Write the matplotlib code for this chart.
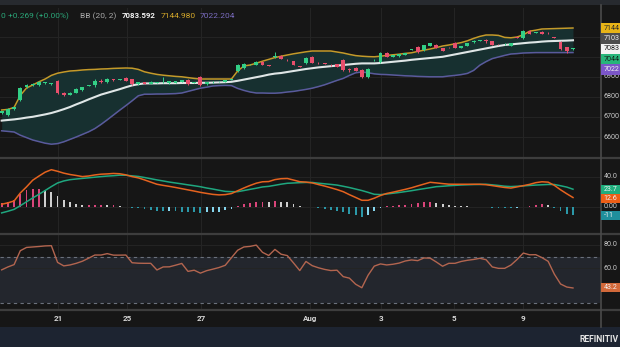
import numpy as np
import matplotlib
matplotlib.use("Agg")
import matplotlib.pyplot as plt
from matplotlib.patches import Rectangle

plt.rcParams['font.family'] = ['Roboto', 'DejaVu Sans']

# ---- data (one value per 4h candle) ----
open_ = [6720, 6712, 6740, 6785, 6848, 6860, 6862, 6870, 6866, 6880,
         6820, 6812, 6820, 6835, 6857, 6858, 6880, 6875, 6888, 6885,
         6895, 6890, 6865, 6875, 6867, 6870, 6873, 6868, 6872, 6877,
         6885, 6870, 6900, 6863, 6873, 6878, 6875, 6886, 6928, 6945,
         6963, 6960, 6975, 6956, 7000, 7005, 6987, 6980, 6952, 6970,
         7000, 6972, 6966, 6962, 6965, 6985, 6938, 6945, 6935, 6900,
         6984, 6975, 7020, 7000, 7003, 7010, 7035, 7050, 7035, 7055,
         7060, 7045, 7050, 7070, 7045, 7055, 7073, 7082, 7085, 7080,
         7061, 7063, 7055, 7096, 7095, 7130, 7120, 7125, 7122, 7097,
         7075, 7050, 7040]
high = [6732, 6745, 6752, 6850, 6866, 6870, 6880, 6874, 6869, 6886,
        6823, 6824, 6843, 6852, 6862, 6892, 6888, 6893, 6892, 6888,
        6898, 6892, 6877, 6877, 6880, 6873, 6898, 6880, 6882, 6887,
        6888, 6873, 6905, 6877, 6879, 6881, 6887, 6889, 6965, 6968,
        6966, 6978, 6978, 6958, 7025, 7008, 6989, 6982, 6954, 6998,
        7003, 6974, 6968, 6964, 6967, 6990, 6947, 6948, 6938, 6943,
        6988, 7025, 7023, 7012, 7015, 7022, 7038, 7053, 7062, 7072,
        7063, 7047, 7052, 7073, 7057, 7072, 7085, 7085, 7088, 7082,
        7063, 7070, 7072, 7098, 7135, 7133, 7127, 7128, 7124, 7099,
        7078, 7052, 7046]
low = [6716, 6706, 6735, 6780, 6845, 6855, 6856, 6867, 6862, 6815,
       6807, 6810, 6818, 6832, 6855, 6852, 6870, 6872, 6882, 6883,
       6878, 6862, 6862, 6864, 6865, 6868, 6868, 6866, 6870, 6875,
       6862, 6868, 6855, 6860, 6868, 6876, 6873, 6884, 6925, 6942,
       6961, 6958, 6958, 6953, 6995, 6988, 6982, 6958, 6949, 6967,
       6968, 6966, 6963, 6956, 6948, 6930, 6925, 6928, 6897, 6897,
       6982, 6970, 6998, 6998, 7000, 7008, 7033, 7022, 7032, 7053,
       7043, 7028, 7047, 7043, 7043, 7053, 7068, 7080, 7070, 7058,
       7058, 7058, 7053, 7094, 7090, 7113, 7118, 7113, 7116, 7095,
       7035, 7020, 7037]
close = [6728, 6740, 6748, 6845, 6860, 6866, 6876, 6871, 6867, 6820,
         6810, 6822, 6840, 6848, 6859, 6880, 6875, 6890, 6884, 6886,
         6880, 6865, 6875, 6866, 6877, 6871, 6874, 6878, 6880, 6885,
         6865, 6871, 6860, 6875, 6874, 6879, 6885, 6887, 6960, 6965,
         6964, 6975, 6960, 6955, 7003, 6990, 6984, 6960, 6951, 6995,
         6970, 6968, 6965, 6958, 6950, 6935, 6937, 6930, 6900, 6940,
         6986, 7020, 7000, 7010, 7013, 7020, 7036, 7025, 7060, 7070,
         7045, 7030, 7049, 7045, 7055, 7070, 7078, 7083, 7082, 7060,
         7059, 7065, 7070, 7095, 7130, 7115, 7125, 7115, 7118, 7096,
         7040, 7028, 7044]

bb_upper = [6735, 6738, 6748, 6808, 6845, 6860, 6876, 6890, 6908, 6919,
            6925, 6930, 6932, 6935, 6937, 6938, 6940, 6941, 6943, 6944,
            6945, 6944, 6938, 6926, 6919, 6913, 6909, 6906, 6903, 6901,
            6897, 6893, 6890, 6890, 6890, 6890, 6890, 6890, 6930, 6955,
            6960, 6969, 6979, 6988, 6997, 7004, 7010, 7016, 7021, 7026,
            7030, 7030, 7030, 7030, 7025, 7020, 7013, 7007, 7004, 7002,
            7001, 7004, 7008, 7011, 7014, 7018, 7021, 7028, 7034, 7040,
            7047, 7055, 7060, 7066, 7072, 7081, 7093, 7103, 7110, 7110,
            7108, 7098, 7096, 7100, 7111, 7129, 7134, 7140, 7141, 7142,
            7143, 7144, 7144.980]
bb_mid = [6682, 6685, 6688, 6692, 6697, 6701, 6707, 6713, 6720, 6729,
          6739, 6750, 6763, 6775, 6788, 6800, 6812, 6821, 6830, 6839,
          6849, 6858, 6864, 6868, 6868, 6868, 6869, 6869, 6869, 6870,
          6870, 6870, 6871, 6871, 6872, 6873, 6874, 6876, 6881, 6887,
          6893, 6899, 6905, 6912, 6917, 6920, 6925, 6930, 6935, 6940,
          6944, 6948, 6951, 6954, 6957, 6960, 6963, 6966, 6968, 6968,
          6968, 6970, 6973, 6976, 6979, 6982, 6986, 6989, 6992, 6995,
          6998, 7001, 7007, 7013, 7019, 7025, 7031, 7037, 7043, 7049,
          7055, 7060, 7063, 7066, 7069, 7072, 7074, 7077, 7079, 7080,
          7081, 7082, 7083.592]
bb_lower = [6631, 6628, 6625, 6609, 6597, 6585, 6577, 6569, 6564, 6567,
            6576, 6588, 6600, 6613, 6626, 6642, 6663, 6686, 6710, 6734,
            6757, 6781, 6806, 6814, 6814, 6815, 6815, 6816, 6817, 6820,
            6828, 6836, 6844, 6849, 6855, 6857, 6858, 6857, 6843, 6833,
            6825, 6820, 6820, 6819, 6819, 6821, 6825, 6828, 6833, 6838,
            6844, 6852, 6861, 6872, 6883, 6893, 6908, 6921, 6925, 6921,
            6916, 6913, 6912, 6910, 6908, 6906, 6905, 6903, 6902, 6901,
            6901, 6901, 6905, 6908, 6912, 6918, 6933, 6959, 6977, 6992,
            7000, 7008, 7015, 7017, 7020, 7021, 7022, 7022, 7022, 7022,
            7022, 7022, 7022.204]

macd = [3.6, 5.5, 8.0, 18.7, 26.8, 35.7, 41.2, 46.4, 49.7, 47.6,
        45.1, 43.3, 42.0, 40.5, 41.3, 42.7, 43.7, 44.1, 44.7, 44.3,
        42.8, 40.5, 38.8, 36.1, 33.2, 30.3, 28.8, 27.5, 26.0, 24.4,
        22.8, 21.2, 19.5, 18.1, 16.8, 16.1, 16.5, 17.9, 21.6, 25.3,
        28.7, 31.7, 33.6, 33.9, 36.5, 37.7, 38.0, 35.9, 33.7, 33.2,
        32.1, 29.9, 27.9, 25.6, 23.2, 20.4, 16.4, 12.7, 8.9, 8.9,
        11.7, 15.3, 18.0, 19.7, 21.6, 23.5, 25.6, 28.1, 30.5, 32.9,
        32.1, 31.2, 30.4, 30.3, 30.3, 30.3, 30.3, 30.3, 29.7, 28.5,
        27.2, 26.0, 25.2, 26.8, 28.4, 30.1, 32.4, 33.6, 33.1, 28.8,
        22.9, 17.6, 12.6]
signal = [-7.9, -5.7, -3.2, 1.7, 6.9, 12.0, 16.9, 22.0, 27.2, 32.0,
          34.7, 36.4, 37.3, 38.1, 38.9, 39.7, 40.5, 41.2, 41.7, 42.4,
          42.3, 41.5, 40.7, 39.3, 37.7, 36.1, 34.7, 33.2, 32.0, 30.8,
          29.5, 28.3, 27.0, 25.3, 23.9, 22.3, 20.8, 20.4, 20.4, 21.9,
          23.5, 25.0, 26.7, 27.5, 28.9, 30.4, 31.6, 32.0, 32.4, 32.7,
          32.7, 31.7, 30.9, 30.1, 29.2, 27.6, 25.9, 23.9, 21.9, 19.5,
          16.9, 16.5, 17.3, 18.3, 19.3, 20.5, 21.7, 23.1, 24.4, 25.7,
          27.1, 27.6, 28.3, 28.8, 29.3, 29.6, 29.9, 30.0, 30.3, 29.5,
          28.7, 27.7, 27.2, 27.6, 28.1, 28.7, 29.2, 29.6, 30.0, 30.0,
          28.3, 26.5, 23.7]
hist = [5.0, 6.7, 8.9, 17.8, 22.5, 24.0, 24.2, 22.0, 20.5, 15.0,
        9.5, 6.0, 3.5, 2.4, 2.4, 3.0, 3.2, 2.9, 3.0, 1.9,
        0.5, -1.0, -1.9, -3.2, -4.5, -5.8, -5.9, -5.7, -6.0, -6.4,
        -6.7, -7.1, -7.5, -7.2, -7.1, -6.2, -4.3, -2.5, 1.2, 3.4,
        5.2, 6.7, 6.9, 6.4, 7.6, 7.3, 6.4, 3.9, 1.3, 0.5,
        -0.6, -1.8, -3.0, -4.5, -6.0, -7.2, -9.5, -11.2, -13.0, -10.6,
        -5.2, -1.2, 0.7, 1.4, 2.3, 3.0, 3.9, 5.0, 6.1, 7.2,
        5.0, 3.6, 2.1, 1.5, 1.0, 0.7, 0.4, 0.3, -0.6, -1.0,
        -1.5, -1.7, -2.0, -0.8, 0.3, 1.4, 3.2, 4.0, 3.1, -1.2,
        -5.4, -8.9, -11.1]

rsi = [58.7, 61.2, 63.2, 75.1, 77.9, 78.3, 78.7, 79.2, 79.4, 65.1,
       62.1, 62.9, 64.3, 66.1, 68.7, 71.4, 71.4, 72.6, 71.3, 71.3,
       71.4, 64.8, 64.4, 64.3, 64.3, 58.6, 61.2, 61.3, 62.7, 64.2,
       57.4, 58.4, 55.9, 58.0, 59.3, 60.7, 62.6, 69.1, 75.5, 78.3,
       78.8, 79.9, 73.7, 71.0, 76.2, 72.1, 70.9, 64.6, 58.1, 65.9,
       62.3, 60.5, 59.1, 58.1, 58.4, 52.9, 51.6, 46.4, 43.4, 54.1,
       61.9, 63.8, 62.9, 63.5, 64.5, 66.3, 67.2, 66.6, 68.9, 68.7,
       65.4, 61.8, 64.3, 64.3, 65.9, 66.9, 67.6, 68.6, 67.4, 61.2,
       60.0, 60.0, 62.8, 67.6, 73.1, 71.6, 71.7, 69.2, 66.0, 55.0,
       46.6, 44.0, 43.2]

tick_pos = [9.1, 20.2, 32.1, 49.6, 61.1, 72.8, 84.0]
tick_labels = ['21', '25', '27', 'Aug', '3', '5', '9']
price_ticks = [6600, 6700, 6800, 6900, 7000, 7100]
price_labels = [6600, 6700, 6800, 6900]
marker_level = 7103.0
change_txt = '+0.269 (+0.00%)'

# ---- layout (pixel based) ----
W, H = 620, 347
BG = '#161616'
GRID = '#242424'
TXT = '#c9c9c9'
FS = 5.6   # axis text
TFS = 5.1  # right-hand tags, narrow column

fig = plt.figure(figsize=(W / 100, H / 100), dpi=100, facecolor=BG)

def add_panel(top, bottom):
    ax = fig.add_axes([0, 1 - bottom / H, 600 / W, (bottom - top) / H])
    ax.set_facecolor(BG)
    for s in ax.spines.values():
        s.set_visible(False)
    ax.tick_params(left=False, bottom=False, labelleft=False, labelbottom=False)
    ax.set_xlim(-0.27, 96.35)
    for t in tick_pos:
        ax.axvline(t, color=GRID, lw=0.8, zorder=0)
    return ax

P_BOX, M_BOX, R_BOX = (8, 157), (158, 233), (234, 309)
P_LIM, M_LIM, R_LIM = (6500, 7245), (-34.7, 65.3), (25.2, 89.4)

ax_p = add_panel(*P_BOX)
ax_m = add_panel(*M_BOX)
ax_r = add_panel(*R_BOX)
ax_p.set_ylim(*P_LIM)
ax_m.set_ylim(*M_LIM)
ax_r.set_ylim(*R_LIM)

idx = np.arange(len(close))
o, h, l, c = map(np.array, (open_, high, low, close))

# price panel
for v in price_ticks:
    ax_p.axhline(v, color=GRID, lw=0.7, zorder=0)
ax_p.fill_between(idx, bb_lower, bb_upper, color='#173030', lw=0, zorder=1)
ax_p.plot(idx, bb_upper, color='#c49a2a', lw=1.1, zorder=2)
ax_p.plot(idx, bb_lower, color='#5a5a9c', lw=1.1, zorder=2)
ax_p.plot(idx, bb_mid, color='#dfe6e6', lw=1.5, zorder=2)
up = c >= o
cols = np.where(up, '#33cf86', '#e84f6c')
ax_p.vlines(idx, l, h, colors=cols, lw=0.7, zorder=3)
ax_p.bar(idx, np.maximum(np.abs(c - o), 3.5), bottom=np.minimum(o, c),
         width=0.62, color=cols, lw=0, zorder=4)

# macd panel
for v in (0, 40):
    ax_m.axhline(v, color=GRID, lw=0.7, zorder=0)
hv = np.array(hist)
prev = np.concatenate([[hv[0]], hv[:-1]])
hcols = np.where(hv >= 0,
                 np.where(hv >= prev, '#d9457a', '#cfcfcf'),
                 np.where(hv <= prev, '#2b98a8', '#86d6ee'))
ax_m.bar(idx, hv, width=0.3, color=hcols, lw=0, zorder=2)
ax_m.plot(idx, signal, color='#1fa77f', lw=1.1, zorder=3)
ax_m.plot(idx, macd, color='#e5631f', lw=1.1, zorder=3)

# rsi panel
ax_r.axhspan(30, 70, color='#23262d', lw=0, zorder=0)
for v in (80, 60):
    ax_r.axhline(v, color=GRID, lw=0.7, zorder=0)
for v in (30, 70):
    ax_r.axhline(v, color='#6b717c', lw=0.8, ls=(0, (3, 3)), zorder=1)
ax_r.plot(idx, rsi, color='#b3654f', lw=1.0, zorder=2)
ax_r.tick_params(labelbottom=True, length=0, pad=4.5, labelsize=FS + 0.2, labelcolor='#d6d6d6')
ax_r.set_xticks(tick_pos, tick_labels, fontweight='bold')

# ---- frame pieces ----
def fig_rect(x0, y0, x1, y1, fc, z=0.5):
    fig.add_artist(Rectangle((x0 / W, 1 - y1 / H), (x1 - x0) / W, (y1 - y0) / H,
                             transform=fig.transFigure, fc=fc, ec='none', zorder=z))

def fig_hline(y, color='#3d3d3d', lw=1.6):
    fig.add_artist(plt.Line2D([0, 1], [1 - y / H] * 2, transform=fig.transFigure,
                              color=color, lw=lw, zorder=2))

fig_rect(0, 0, W, 5, '#272a2f')
fig_rect(0, 327, W, H, '#1d2431')
for y in (157.5, 233.5, 309.5):
    fig_hline(y)
fig.add_artist(plt.Line2D([600.5 / W] * 2, [1 - 327 / H, 1 - 5 / H], transform=fig.transFigure,
                          color='#4a4a4a', lw=1.2, zorder=2))

def to_px(box, lim, v):
    return box[0] + (lim[1] - v) / (lim[1] - lim[0]) * (box[1] - box[0])

def axis_label(ypx, text):
    fig.text(603.5 / W, 1 - ypx / H, text, color=TXT, fontsize=TFS, va='center', ha='left', zorder=3)

def tags(box, lim, items, bh=10.4):
    ys = []
    for v, *_ in items:
        y = to_px(box, lim, v)
        if ys:
            y = max(y, ys[-1] + bh)
        ys.append(y)
    for y, (v, txt, fc, tc) in zip(ys, items):
        fig_rect(601, y - bh / 2, W, y + bh / 2, fc, z=4)
        fig.text(603.5 / W, 1 - y / H, txt, color=tc, fontsize=TFS, va='center', ha='left', zorder=5)

for v in price_labels:
    axis_label(to_px(P_BOX, P_LIM, v), f'{v:.0f}')
tags(P_BOX, P_LIM, [
    (bb_upper[-1], f'{int(bb_upper[-1])}', '#e8b417', '#2a2a2a'),
    (marker_level, f'{int(marker_level)}', '#4d4d4d', '#f0f0f0'),
    (bb_mid[-1], f'{int(bb_mid[-1])}', '#f2f2f2', '#1a1a1a'),
    (close[-1], f'{int(close[-1])}', '#27b57a', '#102018'),
    (bb_lower[-1], f'{int(bb_lower[-1])}', '#7b56c8', '#f0f0f0'),
])

axis_label(to_px(M_BOX, M_LIM, 40), '40.0')
axis_label(to_px(M_BOX, M_LIM, 0), '0.00')
tags(M_BOX, M_LIM, [
    (signal[-1], f'{signal[-1]:.1f}', '#1fae7d', '#f0f0f0'),
    (macd[-1], f'{macd[-1]:.1f}', '#ee5e16', '#f0f0f0'),
    (hist[-1], f'{hist[-1]:.0f}', '#1f8f9c', '#f0f0f0'),
], bh=9)

axis_label(to_px(R_BOX, R_LIM, 80), '80.0')
axis_label(to_px(R_BOX, R_LIM, 60), '60.0')
tags(R_BOX, R_LIM, [(rsi[-1], f'{rsi[-1]:.1f}', '#d2693a', '#f0f0f0')], bh=9)

# header legend
hy = 1 - 16 / H
HFS = 6.0
fig.text(0.3 / W, hy, f'{close[-1]:.3f}'[-1], color='#2aa678', fontsize=HFS, va='center')
fig.text(8.3 / W, hy, change_txt, color='#2aa678', fontsize=HFS, va='center')
fig.text(80 / W, hy, 'BB (20, 2)', color='#a9a9a9', fontsize=HFS, va='center')
fig.text(122 / W, hy, f'{bb_mid[-1]:.3f}', color='#f2f2f2', fontsize=HFS - 0.3, fontweight='bold', va='center')
fig.text(161 / W, hy, f'{bb_upper[-1]:.3f}', color='#d6a92a', fontsize=HFS, va='center')
fig.text(200 / W, hy, f'{bb_lower[-1]:.3f}', color='#7b6cc0', fontsize=HFS, va='center')

fig.text(619 / W, 1 - 339 / H, 'REFINITIV', color='#e4e4e4', fontsize=6.2,
         fontweight='bold', va='center', ha='right', zorder=5)

fig.savefig('out.png', dpi=100, facecolor=BG)
